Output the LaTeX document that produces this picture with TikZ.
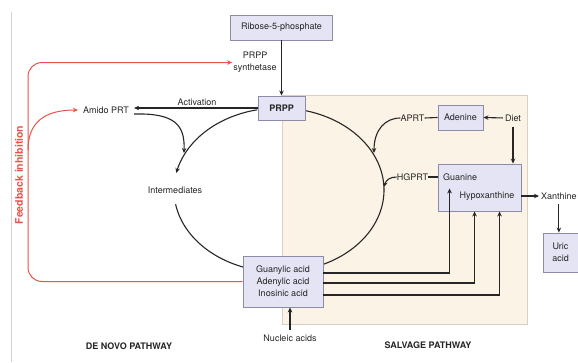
\documentclass[tikz,border=0pt]{standalone}
\usepackage{fontspec}
\setmainfont{TeX Gyre Heros}
\usetikzlibrary{arrows.meta}
\definecolor{boxfill}{HTML}{E4E4F4}
\definecolor{boxdraw}{HTML}{8C8CA8}
\definecolor{beige}{HTML}{FBF3E6}
\definecolor{beigedraw}{HTML}{D9D0C2}
\definecolor{fbred}{HTML}{E8534C}
\definecolor{ink}{HTML}{262626}
\begin{document}
\begin{tikzpicture}[x=1pt,y=-1pt,
  font=\fontsize{9}{12}\selectfont, text=ink,
  box/.style={draw=boxdraw, fill=boxfill, line width=0.9pt, inner sep=0pt, align=center},
  lbl/.style={inner sep=0pt, align=center},
  conn/.style={draw=ink, line width=1.1pt},
  arr/.style={conn, -{Stealth[length=5pt,width=4.5pt]}},
  redarr/.style={draw=fbred, line width=1pt, -{Stealth[length=5pt,width=4.5pt]}},
]
\useasboundingbox (0,0) rectangle (578,362);
\fill[white] (0,0) rectangle (578,362);
\draw[gray!35, line width=0.8pt] (11,12) -- (11,362);
\draw[draw=beigedraw, fill=beige, line width=0.8pt] (282,95) rectangle (527,324);

% the big cycle (ellipse centre 279,190)
\coordinate (ec) at (279,190);
\draw[arr] plot[domain=258:192, samples=50] ({279+105*cos(\x)},{190+82*sin(\x)});
\draw[conn] plot[domain=170:108, samples=50] ({279+105*cos(\x)},{190+82*sin(\x)});
\draw[conn] plot[domain=-78:68, samples=90] ({279+105*cos(\x)},{190+82*sin(\x)});

% nodes
\node[box, minimum width=102pt, minimum height=25pt] (ribose) at (281.5,27.5) {Ribose-5-phosphate};
\node[box, minimum width=47pt, minimum height=24pt] (prpp) at (281.5,108) {\textbf{PRPP}};
\node[box, minimum width=80pt, minimum height=51pt] (guanylic) at (283,281.5) {Guanylic acid\\Adenylic acid\\Inosinic acid};
\node[box, minimum width=45pt, minimum height=25pt] (adenine) at (460.5,117.5) {Adenine};
\node[box, minimum width=83pt, minimum height=47pt] (gbox) at (479.5,187.5) {};
\node[lbl, anchor=west] (guanine) at (443,177) {Guanine};
\node[lbl] (hypox) at (487,196) {Hypoxanthine};
\node[box, minimum width=35pt, minimum height=39pt] (uric) at (560.5,252.5) {Uric\\acid};
\node[lbl, anchor=west] (xan) at (541,196) {Xanthine};
\node[lbl] (diet) at (513,118) {Diet};
\node[lbl] (aprt) at (412.5,118) {APRT};
\node[lbl] (hgprt) at (412.5,177) {HGPRT};
\node[lbl] (amido) at (106,110) {Amido PRT};
\node[lbl] (act) at (197,102) {Activation};
\node[lbl] (synth) at (255,62.5) {PRPP\\synthetase};
\node[lbl] (inter) at (175,190) {Intermediates};
\node[lbl] (nucleic) at (290,338) {Nucleic acids};
\node[lbl, font=\fontsize{9}{11}\selectfont\bfseries] (denovo) at (129,346) {DE NOVO PATHWAY};
\node[lbl, font=\fontsize{9}{11}\selectfont\bfseries] (salvage) at (428,345) {SALVAGE PATHWAY};
\node[lbl, rotate=90, text=fbred, font=\fontsize{10.5}{12}\selectfont\bfseries] (fb) at (19,175) {Feedback inhibition};

% ellipse contact points
\coordinate (tipAmido) at (184,153);
\coordinate (tipAPRT) at (374,153);
\coordinate (tipHGPRT) at (384,187);
\coordinate (fbcorner) at (28,62.5);
\coordinate (fbbranch) at (28,150);

% connectors
\draw[arr] (ribose.south) -- (prpp.north);
\draw[arr, shorten >=5pt] (prpp.west) -- (prpp.west -| amido.east);
\draw[arr] ([xshift=5pt,yshift=-4pt]amido.east) .. controls (175,113) and (185,125) .. (tipAmido);
\draw[arr] (aprt.west) .. controls (385,118) and (374,130) .. (tipAPRT);
\draw[arr] (hgprt.west) .. controls (390,177) and (386,180) .. (tipHGPRT);
\draw[conn] (aprt.east) -- (adenine.west);
\draw[conn] (hgprt.east) -- (hgprt.east -| gbox.west);
\draw[arr, shorten <=2pt] (diet.west) -- (adenine.east);
\draw[arr, shorten <=5pt] (diet.south) -- (diet.south |- gbox.north);
\draw[arr] ([yshift=8.5pt]guanylic.east) -| ([xshift=12pt,yshift=23pt]gbox.south west);
\draw[arr] ([yshift=-1.5pt]guanylic.east) -| ([xshift=37pt]gbox.south west);
\draw[arr] ([yshift=-13.5pt]guanylic.east) -| ([xshift=62pt]gbox.south west);
\draw[arr, shorten >=2pt] ([yshift=-8.5pt]gbox.east) -- (xan.west);
\draw[arr, shorten <=4pt] (xan.south) -- (xan.south |- uric.north);
\draw[arr, shorten <=4pt] (nucleic.north) -- (nucleic.north |- guanylic.south);

% feedback inhibition
\draw[redarr, rounded corners=14pt, shorten >=1pt] (guanylic.west) -| (fbcorner) -- (synth.west);
\draw[redarr, shorten >=5pt] (fbbranch) .. controls (28,122) and (45,110) .. (amido.west);
\end{tikzpicture}
\end{document}
